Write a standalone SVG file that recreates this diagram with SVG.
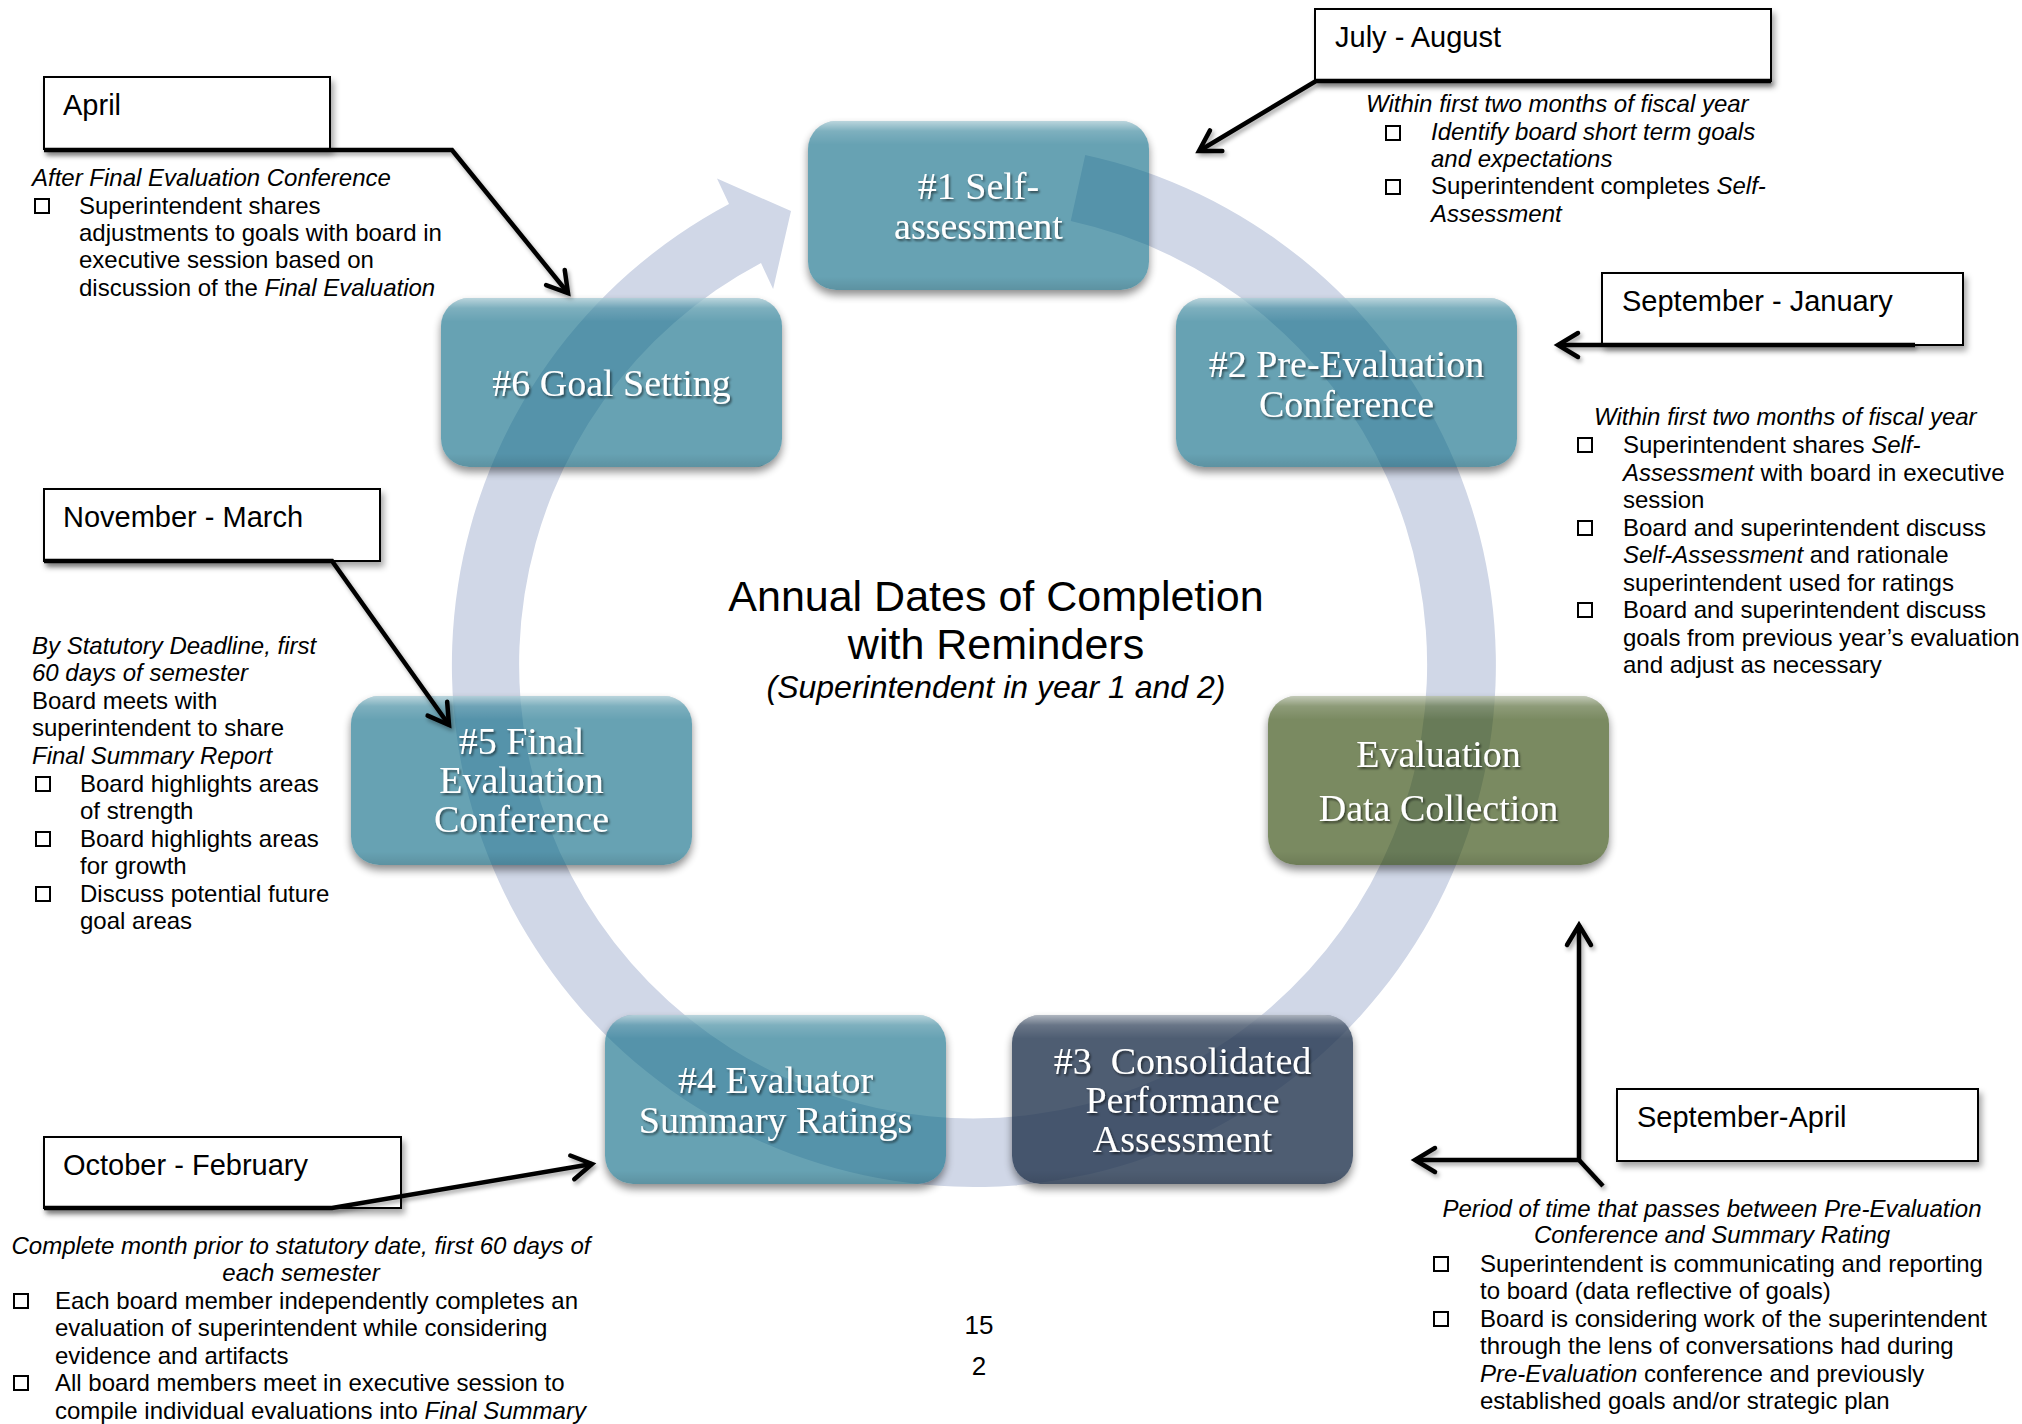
<svg xmlns="http://www.w3.org/2000/svg" width="2022" height="1424" viewBox="0 0 2022 1424">
<style>
.teal{fill:rgb(10,105,132);fill-opacity:.62}
.green{fill:rgb(40,66,0);fill-opacity:.62}
.dark{fill:rgb(34,52,79);fill-opacity:.8}
.sh{fill:#000}
.gl{fill:url(#gloss)}
.nt{font-family:"Liberation Serif","DejaVu Serif",serif;font-size:38px;fill:#fff;text-anchor:middle}
.lb{fill:#fff;stroke:#000;stroke-width:2}
.lt{font-family:"Liberation Sans",Arial,sans-serif;font-size:29px;fill:#000}
.bt{font-family:"Liberation Sans",Arial,sans-serif;font-size:24px;fill:#000}
.tt{font-family:"Liberation Sans",Arial,sans-serif;fill:#000;text-anchor:middle}
.i{font-style:italic}
.c{text-anchor:middle}
.sq{fill:none;stroke:#000;stroke-width:2}
.cn{fill:none;stroke:#000;stroke-width:4.5;stroke-linejoin:miter}
.band{fill:#D0D7E7}
</style>
<defs>
<linearGradient id="gloss" x1="0" y1="0" x2="0" y2="1">
<stop offset="0" stop-color="#fff" stop-opacity=".55"/>
<stop offset=".06" stop-color="#fff" stop-opacity=".15"/>
<stop offset=".14" stop-color="#fff" stop-opacity="0"/>
<stop offset=".92" stop-color="#000" stop-opacity="0"/>
<stop offset="1" stop-color="#000" stop-opacity=".1"/>
</linearGradient>
<filter id="ns" x="-10%" y="-10%" width="120%" height="135%">
<feGaussianBlur in="SourceAlpha" stdDeviation="4" result="b"/>
<feOffset in="b" dy="5" result="o"/>
<feComposite in="o" in2="SourceAlpha" operator="out" result="c"/>
<feComponentTransfer in="c"><feFuncA type="linear" slope="0.45"/></feComponentTransfer>
</filter>
<filter id="ts" x="-10%" y="-20%" width="120%" height="150%">
<feDropShadow dx="1.5" dy="2" stdDeviation="1.2" flood-color="#000" flood-opacity=".55"/>
</filter>
<filter id="ls" x="-10%" y="-20%" width="125%" height="160%">
<feDropShadow dx="3" dy="5" stdDeviation="3" flood-color="#000" flood-opacity=".35"/>
</filter>
<filter id="cs" x="-10%" y="-10%" width="120%" height="120%">
<feDropShadow dx="2" dy="3" stdDeviation="2" flood-color="#000" flood-opacity=".35"/>
</filter>
<marker id="ah" markerUnits="userSpaceOnUse" markerWidth="40" markerHeight="40" viewBox="-25 -20 30 40" refX="0" refY="0" orient="auto" overflow="visible">
<path d="M-20,-12 L0,0 L-20,12" fill="none" stroke="#000" stroke-width="4.5" stroke-linecap="round"/>
</marker>
</defs>

<rect width="2022" height="1424" fill="#fff"/>

<g id="cycle-arrow">
<path class="band" d="M1085.2,155 A522,522 0 1 1 729,204 L717,178.5 L791,211 L773.1,289 L761,263 A454,454 0 1 0 1070.7,221 Z"/>
</g>

<g id="node-1">
<rect class="sh" filter="url(#ns)" x="808" y="121" width="341" height="169" rx="28"/>
<rect class="teal" x="808" y="121" width="341" height="169" rx="28"/>
<rect class="gl" x="808" y="121" width="341" height="169" rx="28"/>
<g filter="url(#ts)"><text class="nt" x="978.5" y="199">#1 Self-</text><text class="nt" x="978.5" y="239">assessment</text></g>
</g>

<g id="node-2">
<rect class="sh" filter="url(#ns)" x="1176" y="298" width="341" height="169" rx="28"/>
<rect class="teal" x="1176" y="298" width="341" height="169" rx="28"/>
<rect class="gl" x="1176" y="298" width="341" height="169" rx="28"/>
<g filter="url(#ts)"><text class="nt" x="1346.5" y="377">#2 Pre-Evaluation</text><text class="nt" x="1346.5" y="417">Conference</text></g>
</g>

<g id="node-data-collection">
<rect class="sh" filter="url(#ns)" x="1268" y="696" width="341" height="169" rx="28"/>
<rect class="green" x="1268" y="696" width="341" height="169" rx="28"/>
<rect class="gl" x="1268" y="696" width="341" height="169" rx="28"/>
<g filter="url(#ts)"><text class="nt" x="1438.5" y="767">Evaluation</text><text class="nt" x="1438.5" y="821">Data Collection</text></g>
</g>

<g id="node-3">
<rect class="sh" filter="url(#ns)" x="1012" y="1015" width="341" height="169" rx="28"/>
<rect class="dark" x="1012" y="1015" width="341" height="169" rx="28"/>
<rect class="gl" x="1012" y="1015" width="341" height="169" rx="28"/>
<g filter="url(#ts)"><text class="nt" x="1182.5" y="1074" xml:space="preserve">#3  Consolidated</text><text class="nt" x="1182.5" y="1113">Performance</text><text class="nt" x="1182.5" y="1152">Assessment</text></g>
</g>

<g id="node-4">
<rect class="sh" filter="url(#ns)" x="605" y="1015" width="341" height="169" rx="28"/>
<rect class="teal" x="605" y="1015" width="341" height="169" rx="28"/>
<rect class="gl" x="605" y="1015" width="341" height="169" rx="28"/>
<g filter="url(#ts)"><text class="nt" x="775.5" y="1093">#4 Evaluator</text><text class="nt" x="775.5" y="1133">Summary Ratings</text></g>
</g>

<g id="node-5">
<rect class="sh" filter="url(#ns)" x="351" y="696" width="341" height="169" rx="28"/>
<rect class="teal" x="351" y="696" width="341" height="169" rx="28"/>
<rect class="gl" x="351" y="696" width="341" height="169" rx="28"/>
<g filter="url(#ts)"><text class="nt" x="521.5" y="754">#5 Final</text><text class="nt" x="521.5" y="793">Evaluation</text><text class="nt" x="521.5" y="832">Conference</text></g>
</g>

<g id="node-6">
<rect class="sh" filter="url(#ns)" x="441" y="298" width="341" height="169" rx="28"/>
<rect class="teal" x="441" y="298" width="341" height="169" rx="28"/>
<rect class="gl" x="441" y="298" width="341" height="169" rx="28"/>
<g filter="url(#ts)"><text class="nt" x="611.5" y="396">#6 Goal Setting</text></g>
</g>

<g id="title">
<text class="tt" x="996" y="611" font-size="43">Annual Dates of Completion</text>
<text class="tt" x="996" y="659" font-size="43">with Reminders</text>
<text class="tt i" x="996" y="698" font-size="32">(Superintendent in year 1 and 2)</text>
</g>

<g id="label-april">
<rect class="lb" filter="url(#ls)" x="44" y="77" width="286" height="72"/>
<text class="lt" x="63" y="115">April</text>
<text class="bt i" x="32" y="186">After Final Evaluation Conference</text>
<rect class="sq" x="35" y="199" width="14" height="14"/>
<text class="bt" x="79" y="214">Superintendent shares</text>
<text class="bt" x="79" y="241">adjustments to goals with board in</text>
<text class="bt" x="79" y="268">executive session based on</text>
<text class="bt" x="79" y="296">discussion of the <tspan class="i">Final Evaluation</tspan></text>
</g>

<g id="label-july-august">
<rect class="lb" filter="url(#ls)" x="1315" y="9" width="456" height="72"/>
<text class="lt" x="1335" y="47">July - August</text>
<text class="bt i" x="1366" y="112">Within first two months of fiscal year</text>
<rect class="sq" x="1386" y="126" width="14" height="14"/>
<text class="bt i" x="1431" y="140">Identify board short term goals</text>
<text class="bt i" x="1431" y="167">and expectations</text>
<rect class="sq" x="1386" y="180" width="14" height="14"/>
<text class="bt" x="1431" y="194">Superintendent completes <tspan class="i">Self-</tspan></text>
<text class="bt i" x="1431" y="222">Assessment</text>
</g>

<g id="label-september-january">
<rect class="lb" filter="url(#ls)" x="1602" y="273" width="361" height="72"/>
<text class="lt" x="1622" y="311">September - January</text>
<text class="bt i" x="1594" y="425">Within first two months of fiscal year</text>
<rect class="sq" x="1578" y="438" width="14" height="14"/>
<text class="bt" x="1623" y="453">Superintendent shares <tspan class="i">Self-</tspan></text>
<text class="bt" x="1623" y="481"><tspan class="i">Assessment</tspan> with board in executive</text>
<text class="bt" x="1623" y="508">session</text>
<rect class="sq" x="1578" y="521" width="14" height="14"/>
<text class="bt" x="1623" y="536">Board and superintendent discuss</text>
<text class="bt" x="1623" y="563"><tspan class="i">Self-Assessment</tspan> and rationale</text>
<text class="bt" x="1623" y="591">superintendent used for ratings</text>
<rect class="sq" x="1578" y="603" width="14" height="14"/>
<text class="bt" x="1623" y="618">Board and superintendent discuss</text>
<text class="bt" x="1623" y="646">goals from previous year’s evaluation</text>
<text class="bt" x="1623" y="673">and adjust as necessary</text>
</g>

<g id="label-november-march">
<rect class="lb" filter="url(#ls)" x="44" y="489" width="336" height="72"/>
<text class="lt" x="63" y="527">November - March</text>
<text class="bt i" x="32" y="654">By Statutory Deadline, first</text>
<text class="bt i" x="32" y="681">60 days of semester</text>
<text class="bt" x="32" y="709">Board meets with</text>
<text class="bt" x="32" y="736">superintendent to share</text>
<text class="bt i" x="32" y="764">Final Summary Report</text>
<rect class="sq" x="36" y="777" width="14" height="14"/>
<text class="bt" x="80" y="792">Board highlights areas</text>
<text class="bt" x="80" y="819">of strength</text>
<rect class="sq" x="36" y="832" width="14" height="14"/>
<text class="bt" x="80" y="847">Board highlights areas</text>
<text class="bt" x="80" y="874">for growth</text>
<rect class="sq" x="36" y="887" width="14" height="14"/>
<text class="bt" x="80" y="902">Discuss potential future</text>
<text class="bt" x="80" y="929">goal areas</text>
</g>

<g id="label-october-february">
<rect class="lb" filter="url(#ls)" x="44" y="1137" width="357" height="71"/>
<text class="lt" x="63" y="1175">October - February</text>
<text class="bt i c" x="301" y="1254">Complete month prior to statutory date, first 60 days of</text>
<text class="bt i c" x="301" y="1281">each semester</text>
<rect class="sq" x="14" y="1294" width="14" height="14"/>
<text class="bt" x="55" y="1309">Each board member independently completes an</text>
<text class="bt" x="55" y="1336">evaluation of superintendent while considering</text>
<text class="bt" x="55" y="1364">evidence and artifacts</text>
<rect class="sq" x="14" y="1376" width="14" height="14"/>
<text class="bt" x="55" y="1391">All board members meet in executive session to</text>
<text class="bt" x="55" y="1419">compile individual evaluations into <tspan class="i">Final Summary</tspan></text>
</g>

<g id="label-september-april">
<rect class="lb" filter="url(#ls)" x="1617" y="1089" width="361" height="72"/>
<text class="lt" x="1637" y="1127">September-April</text>
<text class="bt i c" x="1712" y="1217">Period of time that passes between Pre-Evaluation</text>
<text class="bt i c" x="1712" y="1243">Conference and Summary Rating</text>
<rect class="sq" x="1434" y="1257" width="14" height="14"/>
<text class="bt" x="1480" y="1272">Superintendent is communicating and reporting</text>
<text class="bt" x="1480" y="1299">to board (data reflective of goals)</text>
<rect class="sq" x="1434" y="1312" width="14" height="14"/>
<text class="bt" x="1480" y="1327">Board is considering work of the superintendent</text>
<text class="bt" x="1480" y="1354">through the lens of conversations had during</text>
<text class="bt" x="1480" y="1382"><tspan class="i">Pre-Evaluation</tspan> conference and previously</text>
<text class="bt" x="1480" y="1409">established goals and/or strategic plan</text>
</g>

<g id="page-number">
<text class="tt" x="979" y="1334" font-size="26">15</text>
<text class="tt" x="979" y="1375" font-size="26">2</text>
</g>

<g id="connectors" filter="url(#cs)">
<polyline class="cn" points="44,150 452,150 568,293" marker-end="url(#ah)"/>
<polyline class="cn" points="1771,81 1316,81 1199,151" marker-end="url(#ah)"/>
<polyline class="cn" points="1915,345 1558,345" marker-end="url(#ah)"/>
<polyline class="cn" points="44,561 332,561 449,725" marker-end="url(#ah)"/>
<polyline class="cn" points="44,1208 332,1208 592,1164" marker-end="url(#ah)"/>
<polyline class="cn" points="1579,1160 1579,925" marker-end="url(#ah)"/>
<polyline class="cn" points="1579,1160 1415,1160" marker-end="url(#ah)"/>
<polyline class="cn" points="1579,1160 1603,1186"/>
</g>
</svg>
